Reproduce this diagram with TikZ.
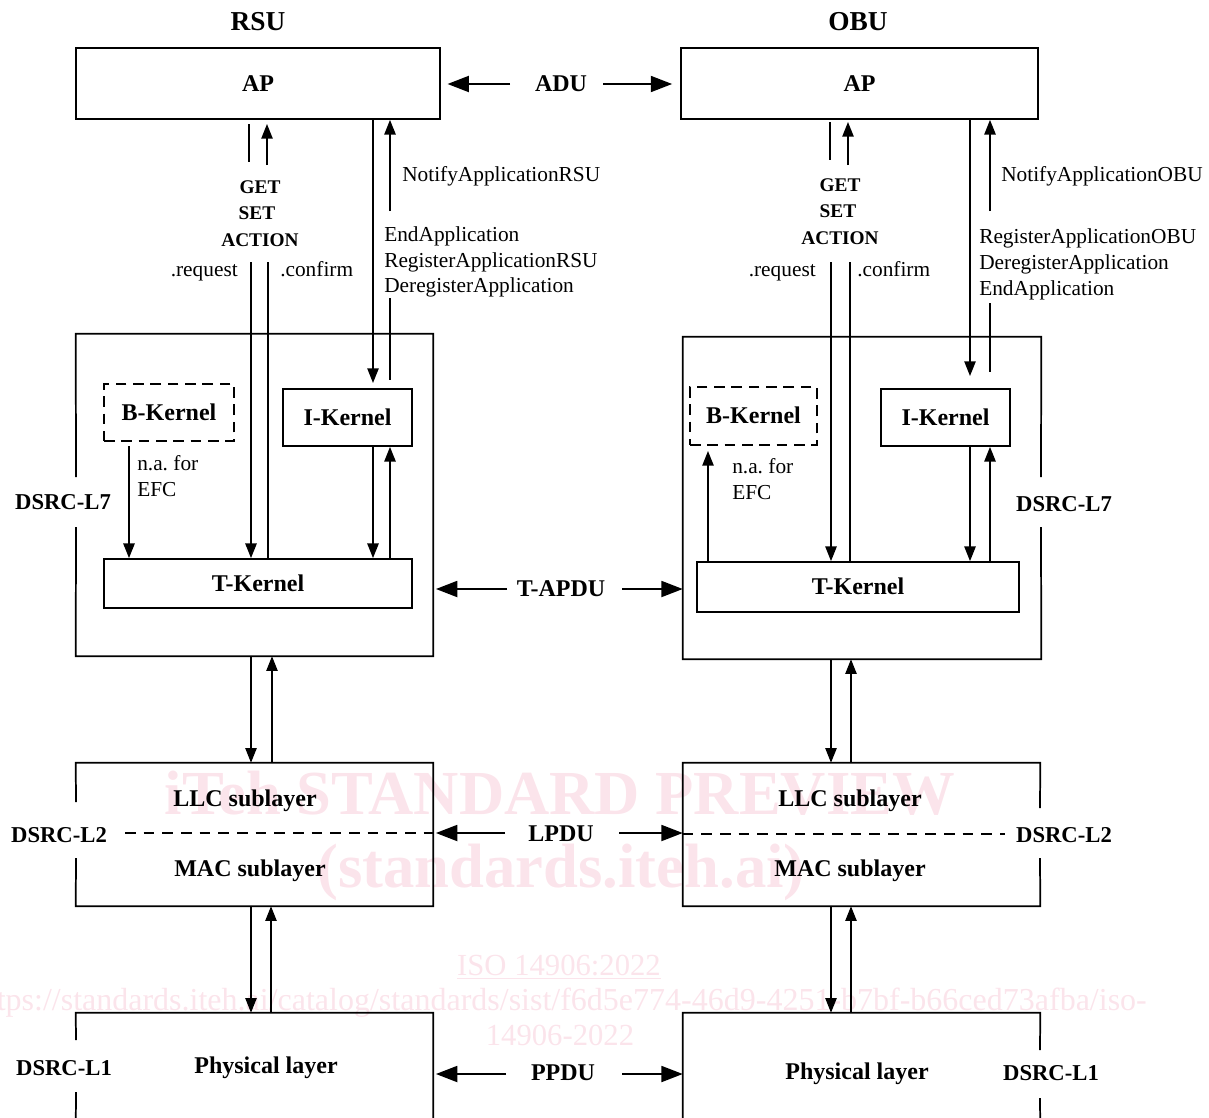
\documentclass[tikz,border=0pt]{standalone}
\usepackage{fontspec}
\setmainfont{Liberation Serif}
\usetikzlibrary{arrows.meta}
\definecolor{wmpink}{RGB}{251,228,235}
\frenchspacing
\begin{document}
\begin{tikzpicture}[x=0.75pt,y=-0.75pt,
  lbl/.style={inner sep=0pt, text depth=0pt},
  bl/.style={lbl, text height=11.9pt, font=\fontsize{18}{20}\selectfont\bfseries},
  ttl/.style={lbl, text height=13.5pt, font=\fontsize{20.5}{22}\selectfont\bfseries},
  dsrc/.style={lbl, text height=11.2pt, font=\fontsize{17}{19}\selectfont\bfseries},
  gsa/.style={lbl, text height=9.6pt, font=\fontsize{14.5}{16}\selectfont\bfseries},
  rg/.style={lbl, text height=10.6pt, font=\fontsize{16}{19}\selectfont},
  wmb/.style={lbl, text=wmpink, text height=31pt, font=\fontsize{47}{50}\selectfont\bfseries},
  wms/.style={lbl, text=wmpink, text height=15.8pt, font=\fontsize{24}{26}\selectfont},
  blk/.style={draw, line width=1.3pt, inner sep=0pt, text height=11.9pt, text depth=0pt, font=\fontsize{18}{20}\selectfont\bfseries},
  dbox/.style={dash pattern=on 8pt off 5pt},
  frame/.style={inner sep=0pt},
  outl/.style={line width=1.3pt},
  dline/.style={line width=1.1pt, dash pattern=on 8pt off 6pt},
  vl/.style={line width=1.1pt},
  va/.style={line width=1.1pt, -{Triangle[length=11pt,width=8.5pt]}},
  ha/.style={line width=1.4pt, -{Triangle[length=16pt,width=12pt]}}
]
\useasboundingbox (0,0) rectangle (1209,1117);
% watermark
\begin{scope}
\clip (0,0) rectangle (1209,1117);
\node[wmb] (wm1) at (560,794) {iTeh STANDARD PREVIEW};
\node[wmb] (wm2) at (561,867) {(standards.iteh.ai)};
\node[wms, font=\fontsize{23}{25}\selectfont] (wm3) at (559,965) {\underline{ISO 14906:2022}};
\node[wms, anchor=east] (wm4) at (1147,1000) {https://standards.iteh.ai/catalog/standards/sist/f6d5e774-46d9-4251-b7bf-b66ced73afba/iso-};
\node[wms, font=\fontsize{23}{25}\selectfont] (wm5) at (560,1035) {14906-2022};
\end{scope}

% titles
\node[ttl] (rsu) at (258,22) {RSU};
\node[ttl] (obu) at (858,22) {OBU};

% AP boxes
\node[blk, minimum width=273pt, minimum height=53.25pt] (apR) at (258,83.5) {AP};
\node[blk, minimum width=267.75pt, minimum height=53.25pt] (apO) at (859.5,83.5) {AP};

% L7 frames and kernels
\node[frame, minimum width=267.75pt, minimum height=241.5pt] (l7R) at (254.5,495) {};
\node[frame, minimum width=268.5pt, minimum height=241.5pt] (l7O) at (862,498) {};
\node[blk, dbox, minimum width=97.5pt, minimum height=42.75pt] (bkR) at (169,412.5) {B-Kernel};
\node[blk, minimum width=96.75pt, minimum height=42.75pt] (ikR) at (347.5,417.5) {I-Kernel};
\node[blk, minimum width=231pt, minimum height=36.75pt] (tkR) at (258,583.5) {T-Kernel};
\node[blk, dbox, minimum width=95.25pt, minimum height=43.5pt] (bkO) at (753.5,416) {B-Kernel};
\node[blk, minimum width=96.75pt, minimum height=42.75pt] (ikO) at (945.5,417.5) {I-Kernel};
\node[blk, minimum width=241.5pt, minimum height=37.5pt] (tkO) at (858,587) {T-Kernel};

% L2, L1 frames
\node[frame, minimum width=267.75pt, minimum height=107.25pt] (l2R) at (254.5,834.5) {};
\node[frame, minimum width=267.75pt, minimum height=107.25pt] (l2O) at (861.5,834.5) {};
\node[frame, minimum width=267.75pt, minimum height=88.5pt] (l1R) at (254.5,1072) {};
\node[frame, minimum width=267.75pt, minimum height=88.5pt] (l1O) at (861.5,1072) {};

% outlines with gaps
\draw[outl] (76,477) -- (l7R.north west) -- (l7R.north east) -- (l7R.south east) -- (l7R.south west) -- (76,527);
\draw[outl] (1041,477) -- (l7O.north east) -- (l7O.north west) -- (l7O.south west) -- (l7O.south east) -- (1041,527);
\draw[outl] (76,802) -- (l2R.north west) -- (l2R.north east) -- (l2R.south east) -- (l2R.south west) -- (76,858);
\draw[outl] (1040,808) -- (l2O.north east) -- (l2O.north west) -- (l2O.south west) -- (l2O.south east) -- (1040,858);
\draw[outl] (76,1040) -- (l1R.north west) -- (l1R.north east) -- (l1R.south east);
\draw[outl] (76,1092) -- (l1R.south west);
\draw[outl] (1040,1050) -- (l1O.north east) -- (l1O.north west) -- (l1O.south west);
\draw[outl] (1040,1098) -- (l1O.south east);

% sublayer dashed lines
\draw[dline] (125,833) -- (l2R.east |- 0,833);
\draw[dline] (l2O.west |- 0,834) -- (1005,834);

% layer labels
\node[bl] (llcR) at (245,799) {LLC sublayer};
\node[bl] (macR) at (250,869) {MAC sublayer};
\node[bl] (llcO) at (850,799) {LLC sublayer};
\node[bl] (macO) at (850,869) {MAC sublayer};
\node[bl] (phR) at (266,1066) {Physical layer};
\node[bl] (phO) at (857,1072) {Physical layer};
\node[dsrc] (l7labR) at (63,502) {DSRC-L7};
\node[dsrc] (l7labO) at (1064,504) {DSRC-L7};
\node[dsrc] (l2labR) at (59,835) {DSRC-L2};
\node[dsrc] (l2labO) at (1064,835) {DSRC-L2};
\node[dsrc] (l1labR) at (64,1068) {DSRC-L1};
\node[dsrc] (l1labO) at (1051,1073) {DSRC-L1};

% PDU labels
\node[bl] (adu) at (561,84) {ADU};
\node[bl] (tapdu) at (561,589) {T-APDU};
\node[bl] (lpdu) at (561,833.5) {LPDU};
\node[bl] (ppdu) at (563,1072.5) {PPDU};

% service labels RSU
\node[gsa] (getR) at (260,187) {GET};
\node[gsa] (setR) at (257,213) {SET};
\node[gsa] (actR) at (260,240) {ACTION};
\node[rg, anchor=east] (reqR) at (238,269) {.request};
\node[rg, anchor=west] (cnfR) at (280,269) {.confirm};
\node[rg, anchor=west] (notR) at (402,174) {NotifyApplicationRSU};
\node[rg, anchor=west] (endR) at (384,234) {EndApplication};
\node[rg, anchor=west] (regR) at (384,260) {RegisterApplicationRSU};
\node[rg, anchor=west] (derR) at (384,285) {DeregisterApplication};
\node[rg, anchor=west] (naR) at (137,463) {n.a. for};
\node[rg, anchor=west] (efcR) at (137,489) {EFC};

% service labels OBU
\node[gsa] (getO) at (840,185) {GET};
\node[gsa] (setO) at (838,211) {SET};
\node[gsa] (actO) at (840,238) {ACTION};
\node[rg, anchor=east] (reqO) at (816,269) {.request};
\node[rg, anchor=west] (cnfO) at (857,269) {.confirm};
\node[rg, anchor=west] (notO) at (1001,174) {NotifyApplicationOBU};
\node[rg, anchor=west] (regO) at (979,236) {RegisterApplicationOBU};
\node[rg, anchor=west] (derO) at (979,262) {DeregisterApplication};
\node[rg, anchor=west] (endO) at (979,288) {EndApplication};
\node[rg, anchor=west] (naO) at (732,466) {n.a. for};
\node[rg, anchor=west] (efcO) at (732,492) {EFC};

% RSU connectors
\draw[vl] (249,124) -- (249,162);
\draw[va] (267,165) -- (267,124);
\draw[va] (251,262) -- (251,0 |- tkR.north);
\draw[vl] (268,262) -- (268,0 |- tkR.north);
\draw[va] (373,0 |- apR.south) -- (373,383);
\draw[va] (390,211) -- (390,0 |- apR.south);
\draw[vl] (390,298) -- (390,380);
\draw[va] (129,446) -- (129,0 |- tkR.north);
\draw[va] (373,0 |- ikR.south) -- (373,0 |- tkR.north);
\draw[va] (390,0 |- tkR.north) -- (390,0 |- ikR.south);
\draw[va] (251,0 |- l7R.south) -- (251,0 |- l2R.north);
\draw[va] (272,0 |- l2R.north) -- (272,0 |- l7R.south);
\draw[va] (251,0 |- l2R.south) -- (251,0 |- l1R.north);
\draw[va] (271,0 |- l1R.north) -- (271,0 |- l2R.south);

% OBU connectors
\draw[vl] (830,122) -- (830,160);
\draw[va] (848,165) -- (848,122);
\draw[va] (831,262) -- (831,0 |- tkO.north);
\draw[vl] (850,262) -- (850,0 |- tkO.north);
\draw[va] (970,0 |- apO.south) -- (970,376);
\draw[va] (990,211) -- (990,0 |- apO.south);
\draw[vl] (990,303) -- (990,372);
\draw[va] (708,0 |- tkO.north) -- (708,451);
\draw[va] (970,0 |- ikO.south) -- (970,0 |- tkO.north);
\draw[va] (990,0 |- tkO.north) -- (990,0 |- ikO.south);
\draw[va] (831,0 |- l7O.south) -- (831,0 |- l2O.north);
\draw[va] (851,0 |- l2O.north) -- (851,0 |- l7O.south);
\draw[va] (831,0 |- l2O.south) -- (831,0 |- l1O.north);
\draw[va] (851,0 |- l1O.north) -- (851,0 |- l2O.south);

% horizontal PDU arrows
\draw[ha, shorten >=5pt] (510,84) -- (apR.east |- 0,84);
\draw[ha, shorten >=6pt] (603,84) -- (apO.west |- 0,84);
\draw[ha, shorten >=2pt] (507,589) -- (l7R.east |- 0,589);
\draw[ha] (622,589) -- (l7O.west |- 0,589);
\draw[ha, shorten >=2pt] (505,833) -- (l2R.east |- 0,833);
\draw[ha] (619,833) -- (l2O.west |- 0,833);
\draw[ha, shorten >=2pt] (506,1074) -- (l1R.east |- 0,1074);
\draw[ha] (622,1074) -- (l1O.west |- 0,1074);
\end{tikzpicture}
\end{document}
